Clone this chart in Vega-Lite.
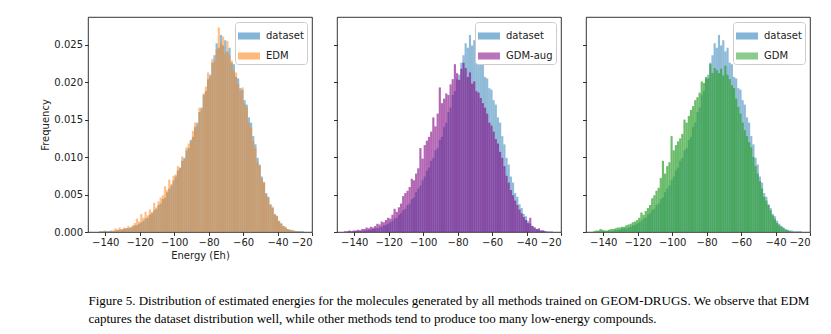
{
  "$schema": "https://vega.github.io/schema/vega-lite/v6.json",
  "padding": {"left": 40, "top": 16, "right": 5, "bottom": 5},
  "datasets": {
    "ds": [
      {"e":-143.75,"f":0.0001},{"e":-142.5,"f":0.0001},{"e":-141.25,"f":0.0001},{"e":-140,"f":0.0001},{"e":-138.75,"f":0.0001},{"e":-137.5,"f":0.0002},{"e":-136.25,"f":0.0001},{"e":-135,"f":0.0002},{"e":-133.75,"f":0.0003},{"e":-132.5,"f":0.0003},{"e":-131.25,"f":0.0003},{"e":-130,"f":0.0004},{"e":-128.75,"f":0.0005},{"e":-127.5,"f":0.0005},{"e":-126.25,"f":0.0006},{"e":-125,"f":0.0007},{"e":-123.75,"f":0.0009},{"e":-122.5,"f":0.0009},{"e":-121.25,"f":0.0011},{"e":-120,"f":0.0013},{"e":-118.75,"f":0.0015},{"e":-117.5,"f":0.0018},{"e":-116.25,"f":0.0019},{"e":-115,"f":0.0023},{"e":-113.75,"f":0.0025},{"e":-112.5,"f":0.0029},{"e":-111.25,"f":0.0031},{"e":-110,"f":0.0036},{"e":-108.75,"f":0.0038},{"e":-107.5,"f":0.0044},{"e":-106.25,"f":0.0046},{"e":-105,"f":0.0053},{"e":-103.75,"f":0.0058},{"e":-102.5,"f":0.0062},{"e":-101.25,"f":0.0069},{"e":-100,"f":0.0074},{"e":-98.75,"f":0.0082},{"e":-97.5,"f":0.0086},{"e":-96.25,"f":0.0095},{"e":-95,"f":0.0099},{"e":-93.75,"f":0.0109},{"e":-92.5,"f":0.0112},{"e":-91.25,"f":0.0123},{"e":-90,"f":0.0127},{"e":-88.75,"f":0.0140},{"e":-87.5,"f":0.0146},{"e":-86.25,"f":0.0160},{"e":-85,"f":0.0166},{"e":-83.75,"f":0.0183},{"e":-82.5,"f":0.0188},{"e":-81.25,"f":0.0204},{"e":-80,"f":0.0210},{"e":-78.75,"f":0.0226},{"e":-77.5,"f":0.0236},{"e":-76.25,"f":0.0252},{"e":-75,"f":0.0246},{"e":-73.75,"f":0.0263},{"e":-72.5,"f":0.0249},{"e":-71.25,"f":0.0256},{"e":-70,"f":0.0241},{"e":-68.75,"f":0.0246},{"e":-67.5,"f":0.0226},{"e":-66.25,"f":0.0224},{"e":-65,"f":0.0207},{"e":-63.75,"f":0.0205},{"e":-62.5,"f":0.0192},{"e":-61.25,"f":0.0190},{"e":-60,"f":0.0176},{"e":-58.75,"f":0.0170},{"e":-57.5,"f":0.0153},{"e":-56.25,"f":0.0146},{"e":-55,"f":0.0128},{"e":-53.75,"f":0.0117},{"e":-52.5,"f":0.0099},{"e":-51.25,"f":0.0090},{"e":-50,"f":0.0074},{"e":-48.75,"f":0.0066},{"e":-47.5,"f":0.0052},{"e":-46.25,"f":0.0047},{"e":-45,"f":0.0037},{"e":-43.75,"f":0.0032},{"e":-42.5,"f":0.0024},{"e":-41.25,"f":0.0021},{"e":-40,"f":0.0015},{"e":-38.75,"f":0.0011},{"e":-37.5,"f":0.0008},{"e":-36.25,"f":0.0006},{"e":-35,"f":0.0004},{"e":-33.75,"f":0.0003},{"e":-32.5,"f":0.0002},{"e":-31.25,"f":0.0002},{"e":-30,"f":0.0001},{"e":-28.75,"f":0.0001},{"e":-27.5,"f":0.0001},{"e":-26.25,"f":0.0001}
    ],
    "edm": [
      {"e":-143.75,"f":0.0001},{"e":-141.25,"f":0.0002},{"e":-140,"f":0.0001},{"e":-138.75,"f":0.0001},{"e":-136.25,"f":0.0002},{"e":-135,"f":0.0005},{"e":-133.75,"f":0.0003},{"e":-132.5,"f":0.0006},{"e":-131.25,"f":0.0004},{"e":-130,"f":0.0006},{"e":-128.75,"f":0.0005},{"e":-127.5,"f":0.0008},{"e":-126.25,"f":0.0006},{"e":-125,"f":0.0009},{"e":-123.75,"f":0.0012},{"e":-122.5,"f":0.0018},{"e":-121.25,"f":0.0014},{"e":-120,"f":0.0024},{"e":-118.75,"f":0.0019},{"e":-117.5,"f":0.0027},{"e":-116.25,"f":0.0022},{"e":-115,"f":0.0030},{"e":-113.75,"f":0.0027},{"e":-112.5,"f":0.0039},{"e":-111.25,"f":0.0033},{"e":-110,"f":0.0041},{"e":-108.75,"f":0.0046},{"e":-107.5,"f":0.0049},{"e":-106.25,"f":0.0061},{"e":-105,"f":0.0056},{"e":-103.75,"f":0.0070},{"e":-102.5,"f":0.0064},{"e":-101.25,"f":0.0075},{"e":-100,"f":0.0077},{"e":-98.75,"f":0.0088},{"e":-97.5,"f":0.0085},{"e":-96.25,"f":0.0101},{"e":-95,"f":0.0097},{"e":-93.75,"f":0.0113},{"e":-92.5,"f":0.0118},{"e":-91.25,"f":0.0121},{"e":-90,"f":0.0135},{"e":-88.75,"f":0.0146},{"e":-87.5,"f":0.0142},{"e":-86.25,"f":0.0166},{"e":-85,"f":0.0163},{"e":-83.75,"f":0.0185},{"e":-82.5,"f":0.0194},{"e":-81.25,"f":0.0213},{"e":-80,"f":0.0207},{"e":-78.75,"f":0.0231},{"e":-77.5,"f":0.0228},{"e":-76.25,"f":0.0244},{"e":-75,"f":0.0273},{"e":-73.75,"f":0.0252},{"e":-72.5,"f":0.0261},{"e":-71.25,"f":0.0238},{"e":-70,"f":0.0255},{"e":-68.75,"f":0.0236},{"e":-67.5,"f":0.0229},{"e":-66.25,"f":0.0215},{"e":-65,"f":0.0213},{"e":-63.75,"f":0.0198},{"e":-62.5,"f":0.0188},{"e":-61.25,"f":0.0193},{"e":-60,"f":0.0171},{"e":-58.75,"f":0.0166},{"e":-57.5,"f":0.0145},{"e":-56.25,"f":0.0139},{"e":-55,"f":0.0121},{"e":-53.75,"f":0.0112},{"e":-52.5,"f":0.0094},{"e":-51.25,"f":0.0088},{"e":-50,"f":0.0071},{"e":-48.75,"f":0.0067},{"e":-47.5,"f":0.0050},{"e":-46.25,"f":0.0046},{"e":-45,"f":0.0036},{"e":-43.75,"f":0.0034},{"e":-42.5,"f":0.0023},{"e":-41.25,"f":0.0022},{"e":-40,"f":0.0014},{"e":-38.75,"f":0.0012},{"e":-37.5,"f":0.0008},{"e":-36.25,"f":0.0007},{"e":-35,"f":0.0004},{"e":-33.75,"f":0.0003},{"e":-32.5,"f":0.0003},{"e":-31.25,"f":0.0001},{"e":-30,"f":0.0001},{"e":-28.75,"f":0.0001}
    ],
    "gdmaug": [
      {"e":-146.25,"f":0.0001},{"e":-145,"f":0.0001},{"e":-143.75,"f":0.0002},{"e":-142.5,"f":0.0001},{"e":-141.25,"f":0.0002},{"e":-140,"f":0.0002},{"e":-138.75,"f":0.0003},{"e":-137.5,"f":0.0002},{"e":-136.25,"f":0.0004},{"e":-135,"f":0.0004},{"e":-133.75,"f":0.0006},{"e":-132.5,"f":0.0005},{"e":-131.25,"f":0.0007},{"e":-130,"f":0.0006},{"e":-128.75,"f":0.0008},{"e":-127.5,"f":0.0011},{"e":-126.25,"f":0.0010},{"e":-125,"f":0.0014},{"e":-123.75,"f":0.0013},{"e":-122.5,"f":0.0016},{"e":-121.25,"f":0.0019},{"e":-120,"f":0.0018},{"e":-118.75,"f":0.0023},{"e":-117.5,"f":0.0031},{"e":-116.25,"f":0.0027},{"e":-115,"f":0.0033},{"e":-113.75,"f":0.0038},{"e":-112.5,"f":0.0048},{"e":-111.25,"f":0.0052},{"e":-110,"f":0.0055},{"e":-108.75,"f":0.0060},{"e":-107.5,"f":0.0071},{"e":-106.25,"f":0.0069},{"e":-105,"f":0.0078},{"e":-103.75,"f":0.0085},{"e":-102.5,"f":0.0112},{"e":-101.25,"f":0.0098},{"e":-100,"f":0.0116},{"e":-98.75,"f":0.0122},{"e":-97.5,"f":0.0127},{"e":-96.25,"f":0.0134},{"e":-95,"f":0.0153},{"e":-93.75,"f":0.0141},{"e":-92.5,"f":0.0158},{"e":-91.25,"f":0.0193},{"e":-90,"f":0.0172},{"e":-88.75,"f":0.0178},{"e":-87.5,"f":0.0185},{"e":-86.25,"f":0.0183},{"e":-85,"f":0.0197},{"e":-83.75,"f":0.0204},{"e":-82.5,"f":0.0224},{"e":-81.25,"f":0.0212},{"e":-80,"f":0.0203},{"e":-78.75,"f":0.0218},{"e":-77.5,"f":0.0226},{"e":-76.25,"f":0.0219},{"e":-75,"f":0.0207},{"e":-73.75,"f":0.0213},{"e":-72.5,"f":0.0198},{"e":-71.25,"f":0.0201},{"e":-70,"f":0.0188},{"e":-68.75,"f":0.0186},{"e":-67.5,"f":0.0179},{"e":-66.25,"f":0.0172},{"e":-65,"f":0.0166},{"e":-63.75,"f":0.0158},{"e":-62.5,"f":0.0146},{"e":-61.25,"f":0.0142},{"e":-60,"f":0.0134},{"e":-58.75,"f":0.0124},{"e":-57.5,"f":0.0118},{"e":-56.25,"f":0.0107},{"e":-55,"f":0.0099},{"e":-53.75,"f":0.0088},{"e":-52.5,"f":0.0075},{"e":-51.25,"f":0.0066},{"e":-50,"f":0.0056},{"e":-48.75,"f":0.0049},{"e":-47.5,"f":0.0042},{"e":-46.25,"f":0.0036},{"e":-45,"f":0.0030},{"e":-43.75,"f":0.0025},{"e":-42.5,"f":0.0020},{"e":-41.25,"f":0.0016},{"e":-40,"f":0.0012},{"e":-38.75,"f":0.0019},{"e":-37.5,"f":0.0008},{"e":-36.25,"f":0.0006},{"e":-35,"f":0.0004},{"e":-33.75,"f":0.0005},{"e":-32.5,"f":0.0002},{"e":-31.25,"f":0.0002},{"e":-30,"f":0.0001}
    ],
    "gdm": [
      {"e":-146.25,"f":0.0001},{"e":-145,"f":0.0002},{"e":-143.75,"f":0.0002},{"e":-142.5,"f":0.0004},{"e":-141.25,"f":0.0003},{"e":-140,"f":0.0002},{"e":-138.75,"f":0.0002},{"e":-137.5,"f":0.0003},{"e":-136.25,"f":0.0004},{"e":-135,"f":0.0004},{"e":-133.75,"f":0.0005},{"e":-132.5,"f":0.0006},{"e":-131.25,"f":0.0006},{"e":-130,"f":0.0007},{"e":-128.75,"f":0.0007},{"e":-127.5,"f":0.0009},{"e":-126.25,"f":0.0010},{"e":-125,"f":0.0011},{"e":-123.75,"f":0.0013},{"e":-122.5,"f":0.0014},{"e":-121.25,"f":0.0016},{"e":-120,"f":0.0019},{"e":-118.75,"f":0.0026},{"e":-117.5,"f":0.0023},{"e":-116.25,"f":0.0028},{"e":-115,"f":0.0032},{"e":-113.75,"f":0.0036},{"e":-112.5,"f":0.0045},{"e":-111.25,"f":0.0049},{"e":-110,"f":0.0055},{"e":-108.75,"f":0.0059},{"e":-107.5,"f":0.0072},{"e":-106.25,"f":0.0095},{"e":-105,"f":0.0078},{"e":-103.75,"f":0.0088},{"e":-102.5,"f":0.0093},{"e":-101.25,"f":0.0128},{"e":-100,"f":0.0109},{"e":-98.75,"f":0.0116},{"e":-97.5,"f":0.0121},{"e":-96.25,"f":0.0125},{"e":-95,"f":0.0131},{"e":-93.75,"f":0.0150},{"e":-92.5,"f":0.0146},{"e":-91.25,"f":0.0155},{"e":-90,"f":0.0163},{"e":-88.75,"f":0.0168},{"e":-87.5,"f":0.0176},{"e":-86.25,"f":0.0180},{"e":-85,"f":0.0186},{"e":-83.75,"f":0.0201},{"e":-82.5,"f":0.0199},{"e":-81.25,"f":0.0207},{"e":-80,"f":0.0205},{"e":-78.75,"f":0.0224},{"e":-77.5,"f":0.0212},{"e":-76.25,"f":0.0219},{"e":-75,"f":0.0216},{"e":-73.75,"f":0.0212},{"e":-72.5,"f":0.0218},{"e":-71.25,"f":0.0209},{"e":-70,"f":0.0222},{"e":-68.75,"f":0.0210},{"e":-67.5,"f":0.0204},{"e":-66.25,"f":0.0196},{"e":-65,"f":0.0192},{"e":-63.75,"f":0.0178},{"e":-62.5,"f":0.0167},{"e":-61.25,"f":0.0158},{"e":-60,"f":0.0146},{"e":-58.75,"f":0.0136},{"e":-57.5,"f":0.0128},{"e":-56.25,"f":0.0120},{"e":-55,"f":0.0113},{"e":-53.75,"f":0.0100},{"e":-52.5,"f":0.0088},{"e":-51.25,"f":0.0078},{"e":-50,"f":0.0068},{"e":-48.75,"f":0.0058},{"e":-47.5,"f":0.0047},{"e":-46.25,"f":0.0042},{"e":-45,"f":0.0036},{"e":-43.75,"f":0.0029},{"e":-42.5,"f":0.0022},{"e":-41.25,"f":0.0017},{"e":-40,"f":0.0012},{"e":-38.75,"f":0.0009},{"e":-37.5,"f":0.0007},{"e":-36.25,"f":0.0005},{"e":-35,"f":0.0003},{"e":-33.75,"f":0.0002},{"e":-32.5,"f":0.0001}
    ]
  },
  "title": {
    "text": ["Figure 5. Distribution of estimated energies for the molecules generated by all methods trained on GEOM-DRUGS. We observe that EDM", "captures the dataset distribution well, while other methods tend to produce too many low-energy compounds."],
    "orient": "bottom",
    "anchor": "start",
    "font": "Liberation Serif",
    "fontSize": 13,
    "fontWeight": "normal",
    "color": "#000",
    "lineHeight": 18,
    "offset": 34,
    "dx": 48
  },
  "spacing": 19,
  "resolve": {"scale": {"color": "independent"}, "legend": {"color": "independent"}},
  "hconcat": [
    {
      "width": 224, "height": 215,
      "layer": [
        {
          "data": {"name": "ds"},
          "mark": {"type": "bar", "binSpacing": 0, "opacity": 0.5, "clip": true},
          "encoding": {
            "x": {"field": "e", "type": "quantitative", "bin": {"binned": true, "step": 1.25},
                  "scale": {"domain": [-150, -20], "nice": false, "zero": false},
                  "axis": {"values": [-140, -120, -100, -80, -60, -40, -20], "title": "Energy (Eh)"}},
            "y": {"field": "f", "type": "quantitative", "scale": {"domain": [0, 0.0287], "nice": false},
                  "axis": {"values": [0, 0.005, 0.01, 0.015, 0.02, 0.025], "format": ".3f", "title": "Frequency"}},
            "color": {"datum": "dataset", "scale": {"domain": ["dataset", "EDM"], "range": ["#1f77b4", "#ff7f0e"]}, "legend": {"title": null}}
          }
        },
        {
          "data": {"name": "edm"},
          "mark": {"type": "bar", "binSpacing": 0, "opacity": 0.5, "clip": true},
          "encoding": {
            "x": {"field": "e", "type": "quantitative", "bin": {"binned": true, "step": 1.25}},
            "y": {"field": "f", "type": "quantitative"},
            "color": {"datum": "EDM"}
          }
        }
      ]
    },
    {
      "width": 224, "height": 215,
      "layer": [
        {
          "data": {"name": "ds"},
          "mark": {"type": "bar", "binSpacing": 0, "opacity": 0.5, "clip": true},
          "encoding": {
            "x": {"field": "e", "type": "quantitative", "bin": {"binned": true, "step": 1.25},
                  "scale": {"domain": [-150, -20], "nice": false, "zero": false},
                  "axis": {"values": [-140, -120, -100, -80, -60, -40, -20], "title": null}},
            "y": {"field": "f", "type": "quantitative", "scale": {"domain": [0, 0.0287], "nice": false},
                  "axis": {"values": [0, 0.005, 0.01, 0.015, 0.02, 0.025], "labels": false, "title": null}},
            "color": {"datum": "dataset", "scale": {"domain": ["dataset", "GDM-aug"], "range": ["#1f77b4", "#800080"]}, "legend": {"title": null}}
          }
        },
        {
          "data": {"name": "gdmaug"},
          "mark": {"type": "bar", "binSpacing": 0, "opacity": 0.6, "clip": true},
          "encoding": {
            "x": {"field": "e", "type": "quantitative", "bin": {"binned": true, "step": 1.25}},
            "y": {"field": "f", "type": "quantitative"},
            "color": {"datum": "GDM-aug"}
          }
        }
      ]
    },
    {
      "width": 224, "height": 215,
      "layer": [
        {
          "data": {"name": "ds"},
          "mark": {"type": "bar", "binSpacing": 0, "opacity": 0.5, "clip": true},
          "encoding": {
            "x": {"field": "e", "type": "quantitative", "bin": {"binned": true, "step": 1.25},
                  "scale": {"domain": [-150, -20], "nice": false, "zero": false},
                  "axis": {"values": [-140, -120, -100, -80, -60, -40, -20], "title": null}},
            "y": {"field": "f", "type": "quantitative", "scale": {"domain": [0, 0.0287], "nice": false},
                  "axis": {"values": [0, 0.005, 0.01, 0.015, 0.02, 0.025], "labels": false, "title": null}},
            "color": {"datum": "dataset", "scale": {"domain": ["dataset", "GDM"], "range": ["#1f77b4", "#2ca02c"]}, "legend": {"title": null}}
          }
        },
        {
          "data": {"name": "gdm"},
          "mark": {"type": "bar", "binSpacing": 0, "opacity": 0.7, "clip": true},
          "encoding": {
            "x": {"field": "e", "type": "quantitative", "bin": {"binned": true, "step": 1.25}},
            "y": {"field": "f", "type": "quantitative"},
            "color": {"datum": "GDM"}
          }
        }
      ]
    }
  ],
  "config": {
    "font": "DejaVu Sans",
    "background": "white",
    "view": {"stroke": "#000", "strokeWidth": 0.8},
    "axis": {
      "grid": false, "domain": false,
      "tickColor": "#000", "tickSize": 3.5, "tickWidth": 0.8,
      "labelFont": "DejaVu Sans", "labelFontSize": 10, "labelColor": "#222", "labelPadding": 2,
      "titleFont": "DejaVu Sans", "titleFontSize": 10, "titleFontWeight": "normal", "titleColor": "#222", "titlePadding": 3
    },
    "legend": {
      "orient": "top-right", "offset": 5, "padding": 3,
      "strokeColor": "#ccc", "fillColor": "white", "cornerRadius": 3,
      "labelFont": "DejaVu Sans", "labelFontSize": 10, "labelColor": "#222", "labelOffset": 6,
      "symbolType": "M-1,-0.32H1V0.32H-1Z", "symbolSize": 484, "symbolStrokeWidth": 0, "symbolOpacity": 0.55,
      "rowPadding": 4
    }
  }
}
